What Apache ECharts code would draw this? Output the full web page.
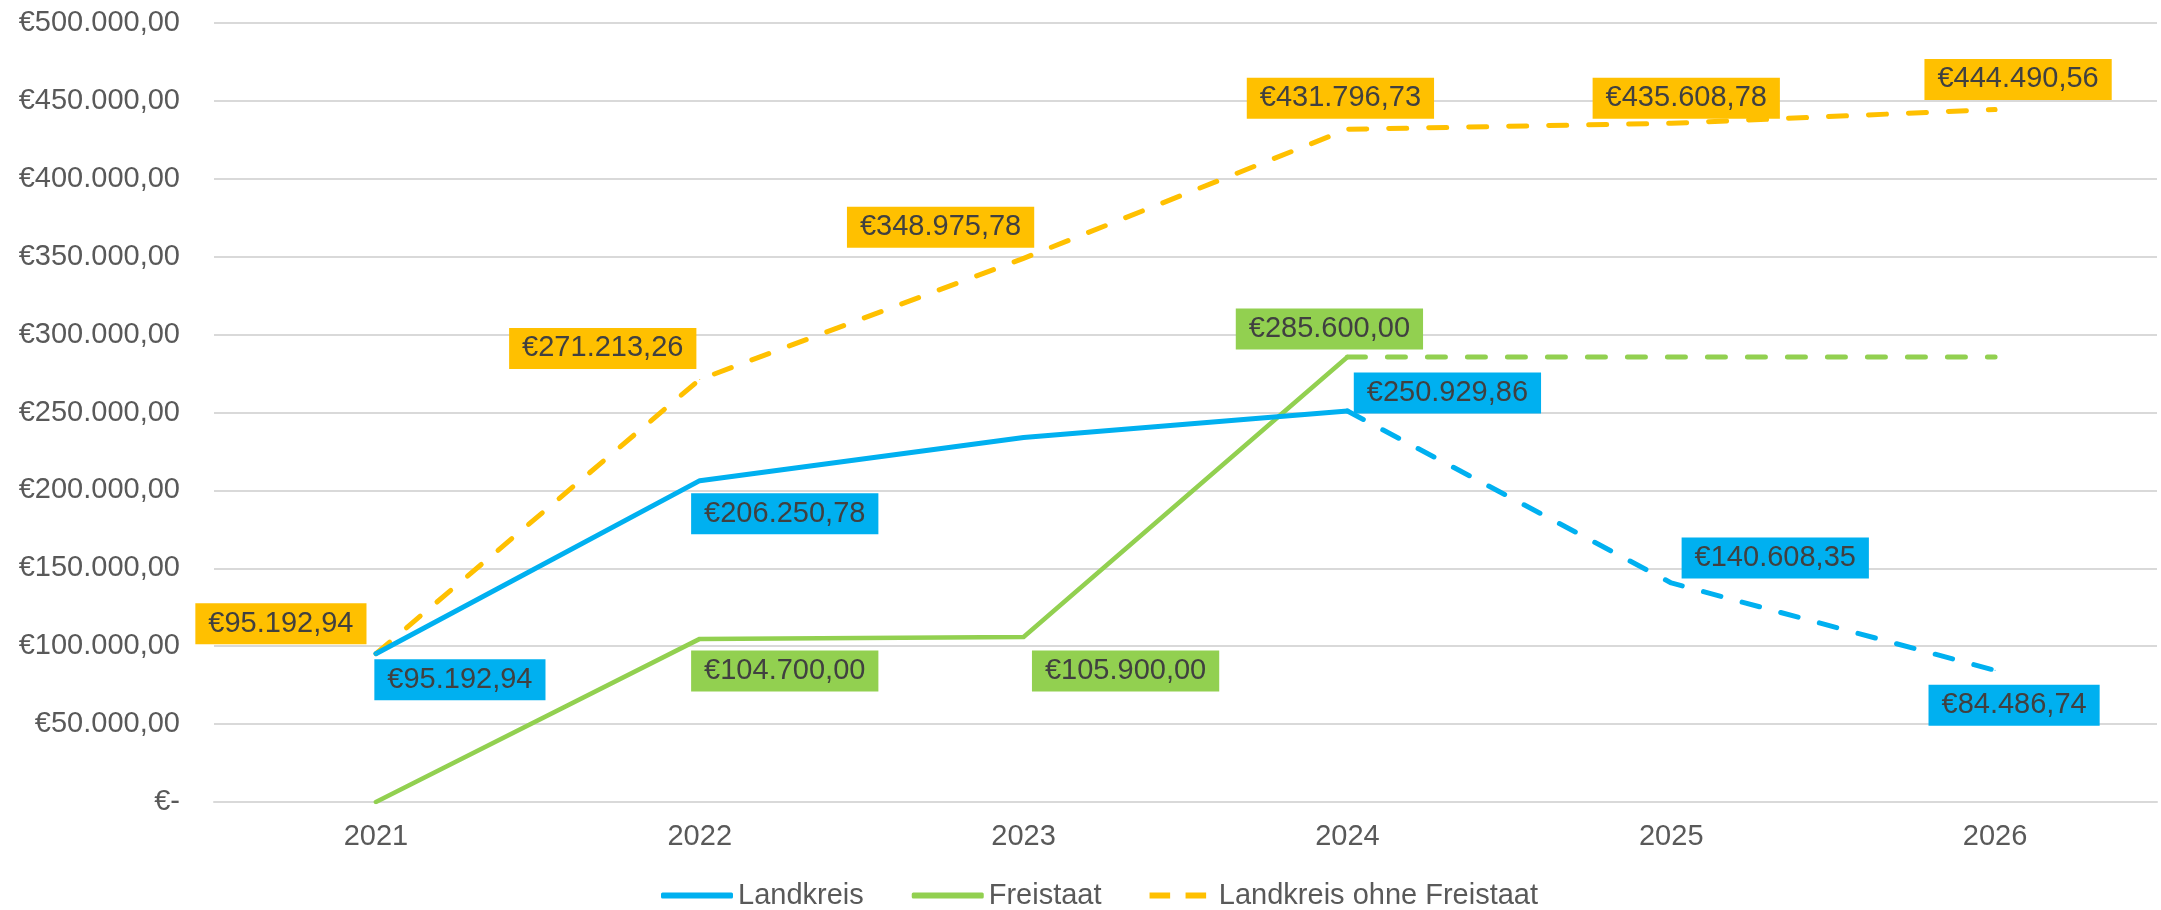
<!DOCTYPE html>
<html>
<head>
<meta charset="utf-8">
<style>
  html, body { margin: 0; padding: 0; background: #fff; }
  #chart { width: 2161px; height: 910px; }
</style>
<script src="https://cdn.jsdelivr.net/npm/echarts@6/dist/echarts.min.js"></script>
</head>
<body>
<div id="chart"></div>
<script>
var years = ['2021', '2022', '2023', '2024', '2025', '2026']
var landkreis = [95192.94, 206250.78, 234000, 250929.86, 140608.35, 84486.74]
var freistaat = [0, 104700, 105900, 285600, 285600, 285600]
var ohneFreistaat = [95192.94, 271213.26, 348975.78, 431796.73, 435608.78, 444490.56]
var lastActual = 3 // ab 2024 Prognose (gestrichelt)

// label offsets in px relative to the point, null = no label
var landkreisLabelPos = [[84, 26], [85, 33], null, [100, -18], [104, -25], [19, 35]]
var freistaatLabelPos = [null, [85, 32], [102, 34], [-18, -28], null, null]
var ohneLabelPos = [[-95, -30], [-97, -31], [-83, -31], [-7, -31], [15, -25], [23, -30]]

var FONT = '"Liberation Sans", Arial, sans-serif'
var BLUE = '#00B0F0'
var GREEN = '#92D050'
var GOLD = '#FFC000'

function euro(v) {
  if (v === 0) return '€-'
  var parts = v.toFixed(2).split('.')
  return '€' + parts[0].replace(/\B(?=(\d{3})+(?!\d))/g, '.') + ',' + parts[1]
}

function items(values, from, to, offsets, labelFrom) {
  return values.map(function (v, i) {
    if (i < from || i > to) return '-'
    var pos = offsets[i]
    if (!pos || i < labelFrom) return { value: v, label: { show: false } }
    return { value: v, label: { show: true, offset: pos } }
  })
}

function lineSeries(name, data, color, width, dashed) {
  return {
    name: name,
    type: 'line',
    data: data,
    symbol: 'circle',
    symbolSize: 1,
    showSymbol: true,
    connectNulls: false,
    itemStyle: { color: color },
    lineStyle: {
      color: color,
      width: width,
      type: dashed ? [18, 22] : 'solid',
      cap: 'round',
      join: 'round'
    },
    label: {
      show: true,
      position: 'inside',
      formatter: function (p) { return euro(p.value) },
      backgroundColor: color,
      color: '#404040',
      fontFamily: FONT,
      fontSize: 29,
      lineHeight: 31,
      padding: [5, 13]
    },
    emphasis: { disabled: true },
    animation: false
  }
}

var chart = echarts.init(document.getElementById('chart'))

chart.setOption({
  backgroundColor: '#fff',
  textStyle: { fontFamily: FONT },
  grid: { left: 214, right: 4, top: 23, bottom: 108, containLabel: false },
  legend: {
    data: [
      { name: 'Landkreis', icon: 'roundRect' },
      { name: 'Freistaat', icon: 'roundRect' },
      { name: 'Landkreis ohne Freistaat', icon: 'path://M3,0h24v7h-24z M45,0h24v7h-24z' }
    ],
    left: 656,
    top: 876,
    itemWidth: 72,
    itemHeight: 6,
    itemGap: 48,
    textStyle: { color: '#595959', fontSize: 29, fontFamily: FONT }
  },
  tooltip: { show: false },
  xAxis: {
    type: 'category',
    data: years,
    boundaryGap: true,
    axisLine: { lineStyle: { color: '#D9D9D9', width: 2 } },
    axisTick: { show: false },
    axisLabel: { color: '#595959', fontSize: 29, fontFamily: FONT, margin: 20 }
  },
  yAxis: {
    type: 'value',
    min: 0,
    max: 500000,
    interval: 50000,
    axisLine: { show: false },
    axisTick: { show: false },
    splitLine: { lineStyle: { color: '#D9D9D9', width: 2 } },
    axisLabel: {
      color: '#595959',
      fontSize: 29,
      fontFamily: FONT,
      margin: 34,
      formatter: euro
    }
  },
  series: [
    lineSeries('Landkreis ohne Freistaat', items(ohneFreistaat, 0, 5, ohneLabelPos, 0), GOLD, 5, true),
    lineSeries('Freistaat', items(freistaat, 0, lastActual, freistaatLabelPos, 0), GREEN, 4.5, false),
    lineSeries('Freistaat Prognose', items(freistaat, lastActual, 5, freistaatLabelPos, lastActual + 1), GREEN, 5, true),
    lineSeries('Landkreis', items(landkreis, 0, lastActual, landkreisLabelPos, 0), BLUE, 5, false),
    lineSeries('Landkreis Prognose', items(landkreis, lastActual, 5, landkreisLabelPos, lastActual + 1), BLUE, 5, true)
  ]
})
</script>
</body>
</html>
